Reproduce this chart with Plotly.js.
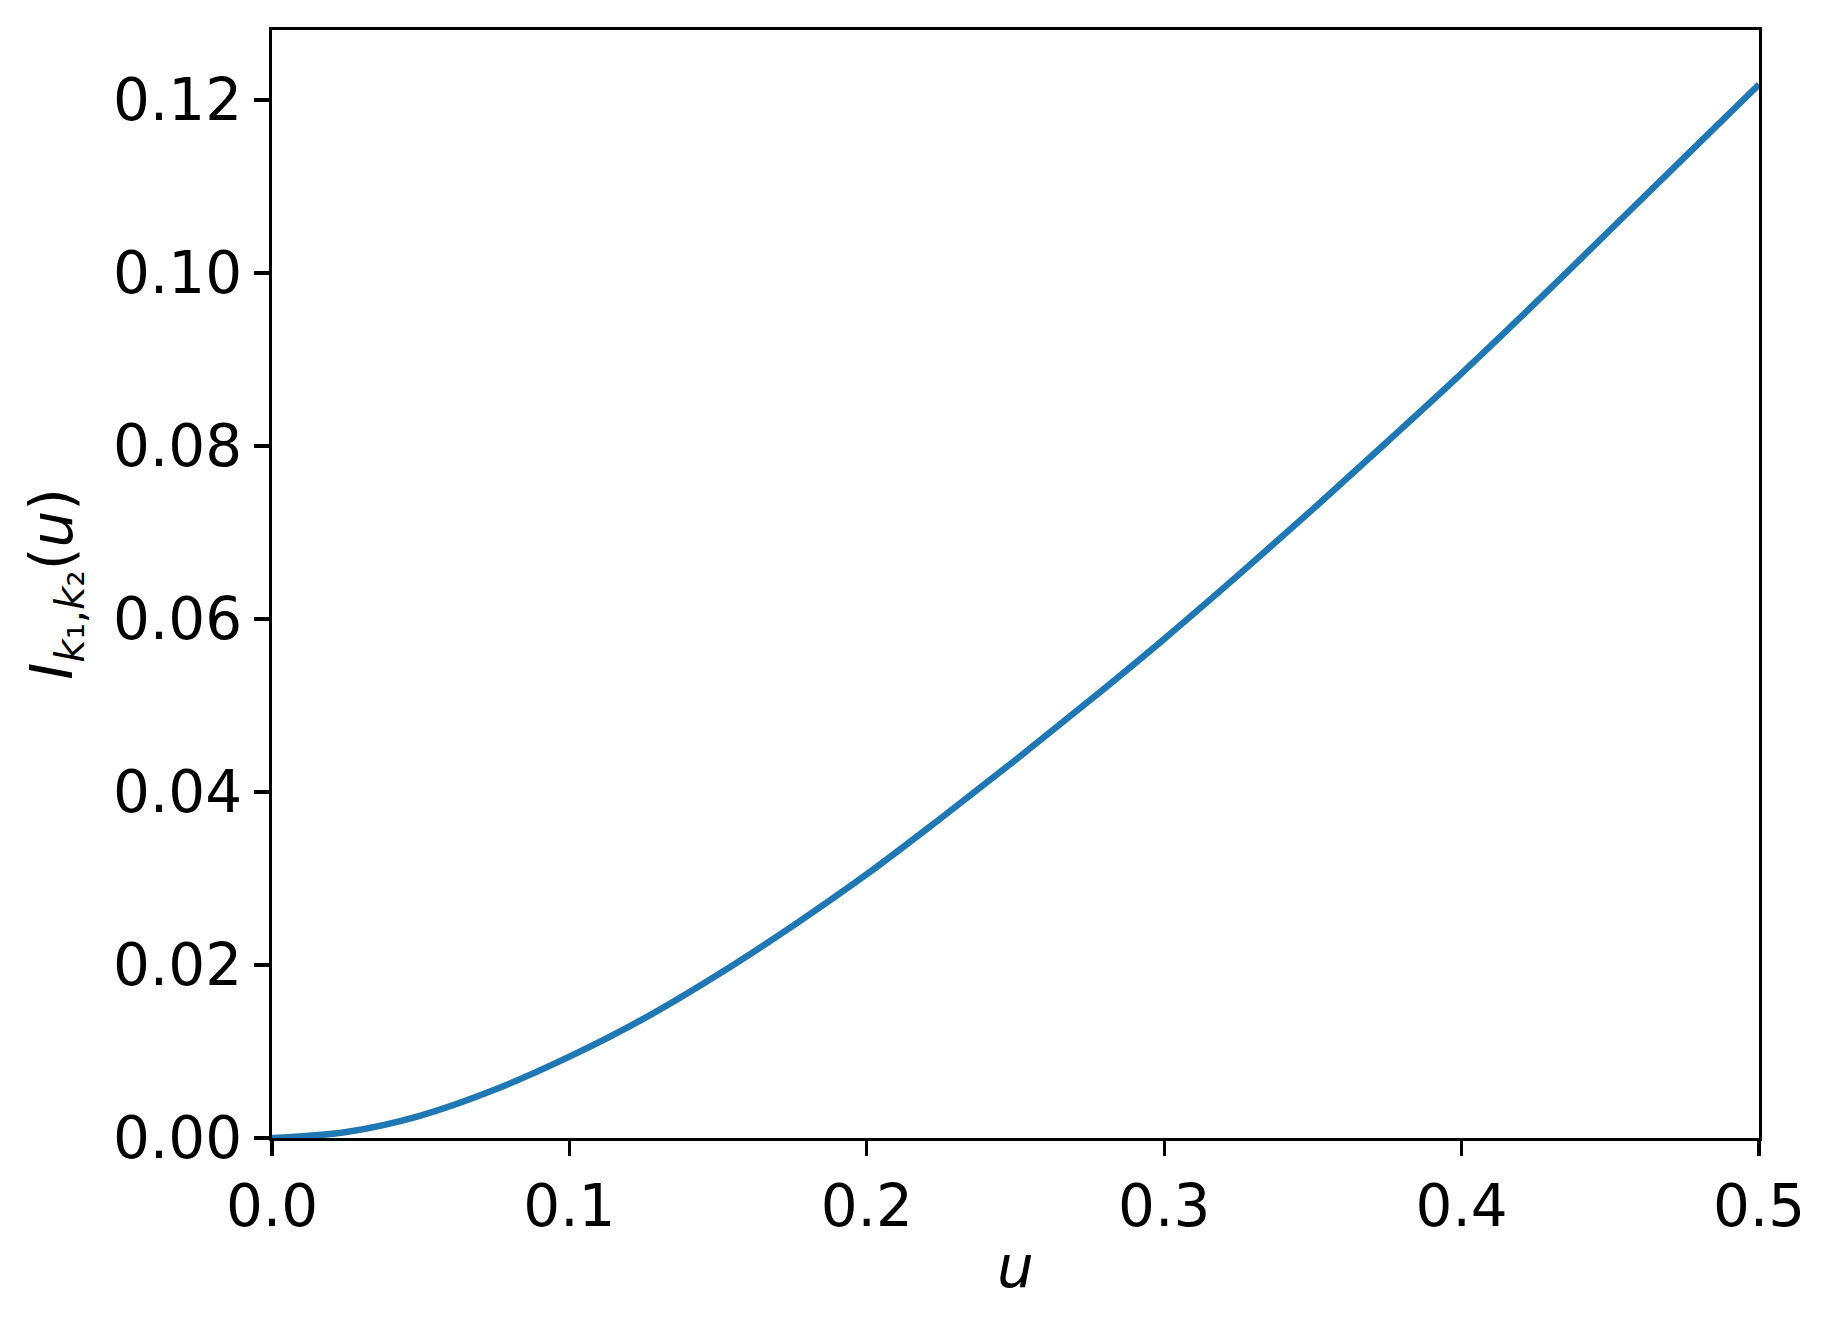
<!DOCTYPE html>
<html>
<head>
<meta charset="utf-8">
<script src="https://cdn.plot.ly/plotly-3.0.1.min.js"></script>
<style>
  html, body { margin: 0; padding: 0; background: #fff; }
  #chart { width: 1835px; height: 1328px; }
</style>
</head>
<body>
<div id="chart"></div>
<script>
// values
const uValues = [0, 0.025, 0.05, 0.075, 0.1, 0.125, 0.15, 0.175, 0.2, 0.225, 0.25,
                 0.275, 0.3, 0.325, 0.35, 0.375, 0.4, 0.425, 0.45, 0.475, 0.5];
const iValues = [0, 0.0007, 0.0026, 0.0056, 0.0094, 0.0138, 0.0189, 0.0245, 0.0305, 0.0370, 0.0437,
                 0.0506, 0.0577, 0.0651, 0.0727, 0.0805, 0.0884, 0.0966, 0.1050, 0.1134, 0.1218];

const xTicks = [0, 0.1, 0.2, 0.3, 0.4, 0.5];
const yTicks = [0, 0.02, 0.04, 0.06, 0.08, 0.10, 0.12];

const font = 'DejaVu Sans, sans-serif';

const trace = {
    x: uValues,
    y: iValues,
    mode: 'lines',
    line: { color: '#1f77b4', width: 6.5, shape: 'spline', smoothing: 1 },
    hoverinfo: 'none'
};

const axisStyle = {
    showline: true,
    mirror: true,
    linecolor: '#000',
    linewidth: 3.3,
    ticks: 'outside',
    ticklen: 15,
    tickwidth: 3.3,
    tickcolor: '#000',
    showgrid: false,
    zeroline: false,
    tickfont: { family: font, size: 58, color: '#000' }
};

const layout = {
    width: 1835,
    height: 1328,
    margin: { l: 272, r: 76, t: 30, b: 190 },
    paper_bgcolor: '#fff',
    plot_bgcolor: '#fff',
    showlegend: false,
    xaxis: Object.assign({}, axisStyle, {
        range: [0, 0.5],
        tickvals: xTicks,
        ticktext: xTicks.map(v => v.toFixed(1)),
        title: { text: '<i>u</i>', font: { family: font, size: 58, color: '#000' }, standoff: 8 }
    }),
    yaxis: Object.assign({}, axisStyle, {
        range: [0, 0.1281],
        tickvals: yTicks,
        ticktext: yTicks.map(v => v.toFixed(2)),
        title: {
            text: '<i>I</i><sub><i>k</i>₁,<i>k</i>₂</sub>(<i>u</i>)',
            font: { family: font, size: 58, color: '#000' },
            standoff: 22
        }
    })
};

Plotly.newPlot('chart', [trace], layout, { displayModeBar: false, staticPlot: true });
</script>
</body>
</html>
